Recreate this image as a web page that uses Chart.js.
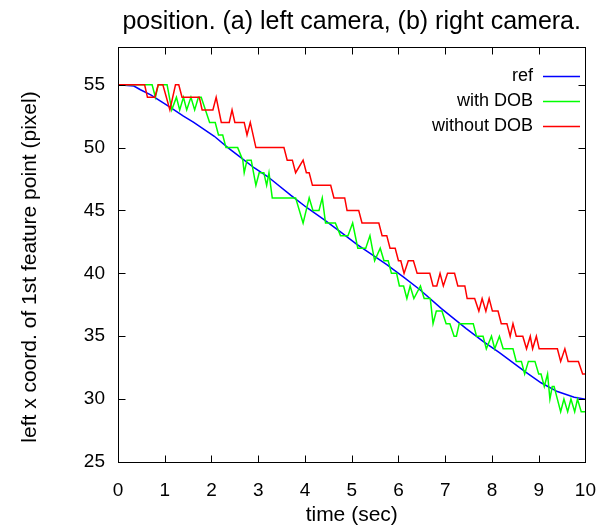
<!DOCTYPE html>
<html>
<head>
<meta charset="utf-8">
<script src="https://cdn.jsdelivr.net/npm/chart.js@4.4.0/dist/chart.umd.min.js"></script>
<style>
  html, body { margin: 0; padding: 0; background: #fff; }
  #wrap { width: 613px; height: 529px; }
</style>
</head>
<body>
<div id="wrap"><canvas id="chart" width="613" height="529"></canvas></div>
<script>
// axis ticks
const xTicks = [0, 1, 2, 3, 4, 5, 6, 7, 8, 9, 10];
const yTicks = [25, 30, 35, 40, 45, 50, 55];

// reference trajectory (time in sec, x coord in pixel)
const refT = [0, 0.34, 0.48, 0.70, 0.91, 1.12, 1.40, 1.62, 2.06, 2.35, 2.63, 2.91, 3.20, 3.70, 4.05,
  4.40, 4.76, 5.11, 5.75, 6.11, 6.46, 6.92, 7.45, 7.81, 8.16, 8.70, 9.05, 9.40, 9.76, 10];
const refV = [55, 54.9, 54.6, 54.2, 53.7, 53.2, 52.5, 52.0, 50.9, 50.0, 49.2, 48.4, 47.7, 46.2, 45.2,
  44.3, 43.3, 42.3, 40.7, 39.7, 38.7, 37.2, 35.6, 34.6, 33.7, 32.2, 31.3, 30.6, 30.15, 30.0];

// measured with DOB
const dobT = [0, 0.73, 0.80, 0.86, 1.05, 1.15, 1.25, 1.32, 1.40, 1.47, 1.56, 1.64, 1.72, 1.78, 1.96,
  2.08, 2.15, 2.24, 2.31, 2.56, 2.67, 2.70, 2.76, 2.85, 2.95, 3.02, 3.12, 3.18, 3.23, 3.30,
  3.80, 3.96, 4.09, 4.17, 4.30, 4.37, 4.44, 4.65, 4.76, 4.92, 5.02, 5.13, 5.30, 5.39, 5.49,
  5.61, 5.69, 5.78, 5.85, 5.96, 6.02, 6.11, 6.18, 6.25, 6.33, 6.47, 6.55, 6.68, 6.74, 6.81,
  6.93, 7.02, 7.10, 7.19, 7.24, 7.30, 7.60, 7.67, 7.81, 7.88, 7.99, 8.06, 8.16, 8.24, 8.45,
  8.52, 8.63, 8.70, 8.78, 8.92, 9.00, 9.05, 9.12, 9.19, 9.24, 9.29, 9.33, 9.40, 9.47, 9.54,
  9.62, 9.69, 9.77, 9.83, 9.91, 10];
const dobV = [55, 55, 54, 55, 55, 53, 54, 53, 54, 53, 54, 53, 54, 54, 52,
  52, 51, 51, 50, 50, 49, 48, 49, 49, 47, 48, 48, 47, 48, 46,
  46, 44, 46, 45, 45, 46, 44, 44, 43, 43, 44, 42, 42, 43, 41,
  42, 41, 41, 40, 40, 39, 39, 38, 39, 38, 39, 38, 38, 36, 37,
  37, 36, 36, 35, 35, 36, 36, 35, 35, 34, 35, 34, 35, 34, 34,
  33, 33, 32, 33, 33, 32, 32, 31, 32, 30, 31, 31, 30, 29, 30,
  29, 30, 29, 30, 29, 29];

// measured without DOB
const noDobT = [0, 0.57, 0.63, 0.79, 0.86, 0.96, 1.11, 1.23, 1.30, 1.37, 1.74, 1.80, 2.03, 2.10, 2.21,
  2.38, 2.44, 2.50, 2.70, 2.76, 2.83, 2.95, 3.55, 3.62, 3.73, 3.80, 3.96, 4.03, 4.09, 4.16,
  4.55, 4.62, 4.85, 4.90, 5.15, 5.22, 5.58, 5.65, 5.75, 5.82, 5.93, 6.00, 6.05, 6.12, 6.21,
  6.32, 6.40, 6.67, 6.74, 6.82, 6.89, 6.96, 7.05, 7.20, 7.27, 7.42, 7.47, 7.63, 7.72, 7.79,
  7.87, 7.94, 8.01, 8.13, 8.20, 8.32, 8.39, 8.45, 8.52, 8.66, 8.74, 8.82, 8.87, 8.95, 9.01,
  9.40, 9.47, 9.56, 9.63, 9.85, 9.94, 10];
const noDobV = [55, 55, 54, 54, 55, 55, 53, 55, 55, 54, 54, 53, 53, 54, 52,
  52, 53, 52, 52, 51, 52, 50, 50, 49, 49, 48, 49, 48, 48, 47,
  47, 46, 46, 45, 45, 44, 44, 43, 43, 42, 42, 41, 41, 40, 41,
  41, 40, 40, 39, 39, 40, 39, 40, 40, 39, 39, 38, 38, 37, 38,
  37, 38, 37, 37, 36, 36, 35, 36, 35, 35, 34, 35, 34, 35, 34,
  34, 33, 34, 33, 33, 32, 32];

const labels = ['ref', 'with DOB', 'without DOB'];
const colors = ['#0000ff', '#00ff00', '#ff0000'];

const FONT = '"Liberation Sans", Arial, Helvetica, sans-serif';

function pts(ts, vs) {
  return ts.map((t, i) => ({ x: t, y: vs[i] }));
}

// border, inward tick marks, text and the key
const decorations = {
  id: 'decorations',
  afterDatasetsDraw(chart) {
    const { ctx, chartArea: a, scales: { x, y } } = chart;
    ctx.save();
    ctx.strokeStyle = '#000';
    ctx.lineWidth = 1;
    const L = Math.round(a.left) + 0.5, R = Math.round(a.right) + 0.5;
    const T = Math.round(a.top) + 0.5, B = Math.round(a.bottom) + 0.5;
    ctx.strokeRect(L, T, R - L, B - T);

    const len = 7;
    ctx.beginPath();
    x.ticks.forEach((t) => {
      const px = Math.round(x.getPixelForValue(t.value)) + 0.5;
      ctx.moveTo(px, B); ctx.lineTo(px, B - len);
      ctx.moveTo(px, T); ctx.lineTo(px, T + len);
    });
    y.ticks.forEach((t) => {
      const py = Math.round(y.getPixelForValue(t.value)) + 0.5;
      ctx.moveTo(L, py); ctx.lineTo(L + len, py);
      ctx.moveTo(R, py); ctx.lineTo(R - len, py);
    });
    ctx.stroke();

    ctx.fillStyle = '#000';
    ctx.textBaseline = 'middle';
    ctx.textAlign = 'center';
    const cx = (a.left + a.right) / 2;
    ctx.font = '25px ' + FONT;
    ctx.fillText('position. (a) left camera, (b) right camera.', cx, 22);

    ctx.font = '21px ' + FONT;
    ctx.fillText('time (sec)', cx, 515);

    ctx.save();
    ctx.translate(30, 267);
    ctx.rotate(-Math.PI / 2);
    ctx.fillText('left x coord. of 1st feature point (pixel)', 0, 0);
    ctx.restore();

    // key, top right inside the frame
    ctx.font = '18px ' + FONT;
    ctx.textAlign = 'right';
    chart.data.datasets.forEach((ds, i) => {
      const ky = 76 + i * 25;
      ctx.fillStyle = '#000';
      ctx.fillText(ds.label, 533, ky);
      ctx.strokeStyle = ds.borderColor;
      ctx.lineWidth = 1.5;
      ctx.beginPath();
      ctx.moveTo(543, ky + 0.5);
      ctx.lineTo(580, ky + 0.5);
      ctx.stroke();
    });
    ctx.restore();
  },
};

new Chart(document.getElementById('chart'), {
  type: 'line',
  data: {
    datasets: [
      { label: labels[0], data: pts(refT, refV), borderColor: colors[0], order: 3 },
      { label: labels[1], data: pts(dobT, dobV), borderColor: colors[1], order: 2 },
      { label: labels[2], data: pts(noDobT, noDobV), borderColor: colors[2], order: 1 },
    ],
  },
  options: {
    responsive: false,
    animation: false,
    devicePixelRatio: 1,
    layout: { padding: { top: 47, right: 25, left: 0, bottom: 0 } },
    elements: {
      point: { radius: 0 },
      line: { borderWidth: 1.5, tension: 0 },
    },
    plugins: {
      legend: { display: false },
      title: { display: false },
      tooltip: { enabled: false },
    },
    scales: {
      x: {
        type: 'linear',
        min: 0,
        max: 10,
        afterBuildTicks: (s) => { s.ticks = xTicks.map((v) => ({ value: v })); },
        afterFit: (s) => { s.height = 67; },
        grid: { display: false, drawTicks: false },
        border: { display: false },
        ticks: { color: '#000', padding: 17, maxRotation: 0, autoSkip: false, font: { family: FONT, size: 19 } },
      },
      y: {
        type: 'linear',
        min: 25,
        max: 58,
        afterBuildTicks: (s) => { s.ticks = yTicks.map((v) => ({ value: v })); },
        afterFit: (s) => { s.width = 118; },
        grid: { display: false, drawTicks: false },
        border: { display: false },
        ticks: { color: '#000', padding: 13, font: { family: FONT, size: 19 } },
      },
    },
  },
  plugins: [decorations],
});
</script>
</body>
</html>
